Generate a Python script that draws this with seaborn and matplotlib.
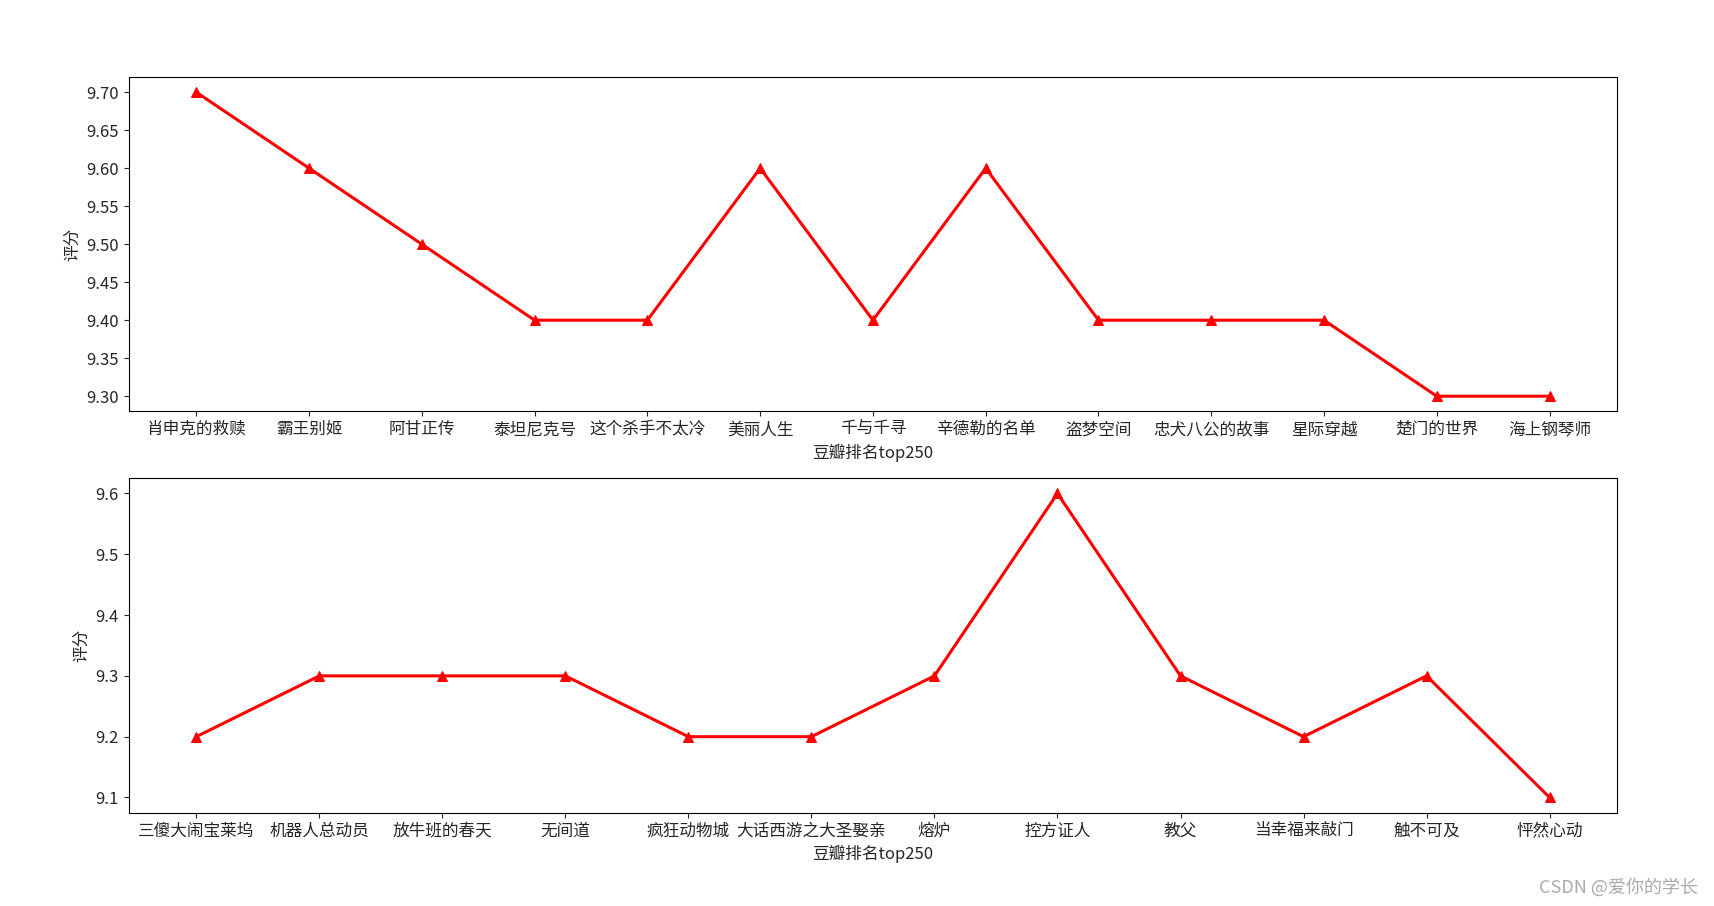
import matplotlib
matplotlib.use('Agg')
import matplotlib.pyplot as plt
import seaborn as sns

# 豆瓣 top250 前 25 部电影
names_1 = ['肖申克的救赎', '霸王别姬', '阿甘正传', '泰坦尼克号', '这个杀手不太冷', '美丽人生',
           '千与千寻', '辛德勒的名单', '盗梦空间', '忠犬八公的故事', '星际穿越', '楚门的世界', '海上钢琴师']
scores_1 = [9.7, 9.6, 9.5, 9.4, 9.4, 9.6, 9.4, 9.6, 9.4, 9.4, 9.4, 9.3, 9.3]

names_2 = ['三傻大闹宝莱坞', '机器人总动员', '放牛班的春天', '无间道', '疯狂动物城', '大话西游之大圣娶亲',
           '熔炉', '控方证人', '教父', '当幸福来敲门', '触不可及', '怦然心动']
scores_2 = [9.2, 9.3, 9.3, 9.3, 9.2, 9.2, 9.3, 9.6, 9.3, 9.2, 9.3, 9.1]

sns.set_style('ticks')
plt.rcParams['font.family'] = ['Noto Sans CJK SC', 'DejaVu Sans']
plt.rcParams['axes.unicode_minus'] = False

fig, axes = plt.subplots(2, 1, figsize=(17.15, 9.06), dpi=100)
fig.subplots_adjust(left=0.075, right=0.943, top=0.915, bottom=0.103, hspace=0.2)

for ax, names, scores in zip(axes, [names_1, names_2], [scores_1, scores_2]):
    sns.lineplot(x=names, y=scores, ax=ax, color='red', linewidth=2.2,
                 marker='^', markersize=7.5, markeredgecolor='red', sort=False)
    ax.set_xlabel('豆瓣排名top250', fontsize=12)
    ax.set_ylabel('评分', fontsize=12)
    ax.tick_params(labelsize=12)
    for s in ax.spines.values():
        s.set_visible(True)
        s.set_color('black')

axes[0].yaxis.set_major_formatter(matplotlib.ticker.FormatStrFormatter('%.2f'))
axes[1].yaxis.set_major_formatter(matplotlib.ticker.FormatStrFormatter('%.1f'))

fig.text(0.99, 0.01, 'CSDN @爱你的学长', ha='right', va='bottom', fontsize=13, color='#aaaaaa')

plt.savefig('out.png', dpi=100)
